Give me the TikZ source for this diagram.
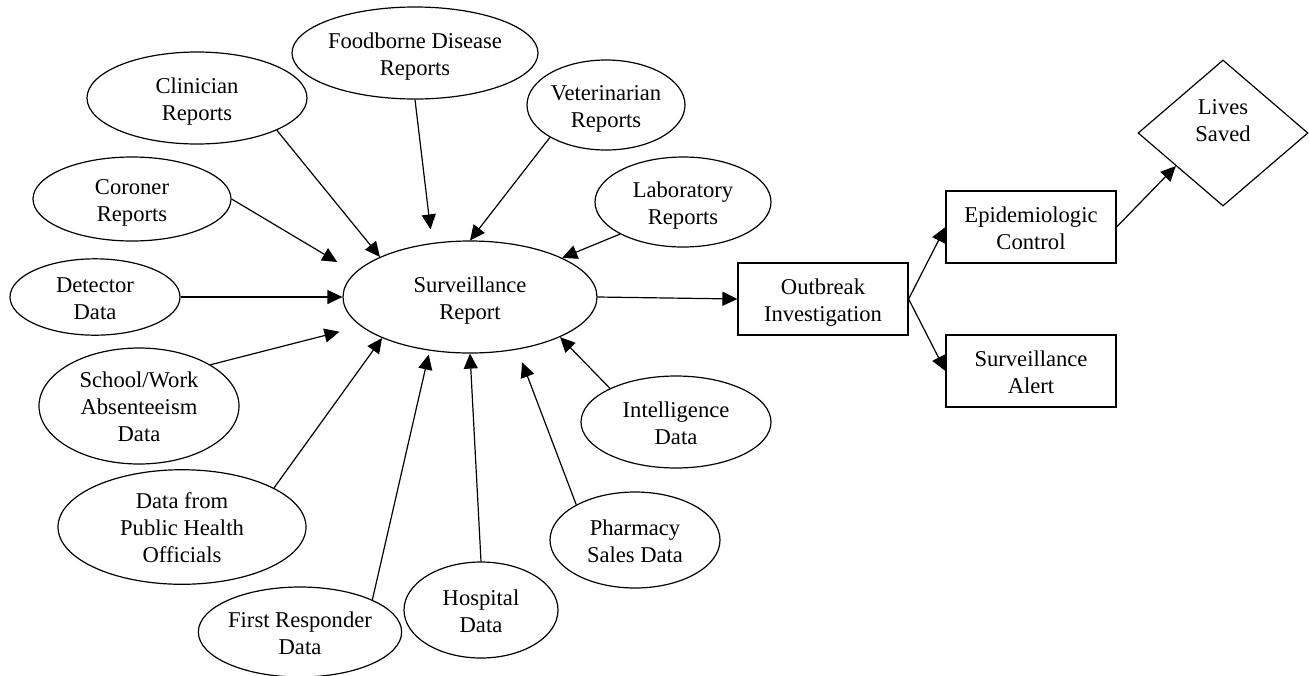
\documentclass[tikz,border=0pt]{standalone}
\usepackage{fontspec}
\setmainfont{Liberation Serif}
\usetikzlibrary{shapes.geometric,arrows.meta}
% two- or three-line label, set a little low in its shape
\newcommand{\lbl}[1]{\raisebox{-1.7pt}[\height][\depth]{\begin{tabular}{@{}c@{}}#1\end{tabular}}}

\begin{document}
\begin{tikzpicture}[x=0.5pt, y=-0.5pt, line width=0.6pt,
    every node/.style={font=\fontsize{11.3}{13.5}\selectfont, align=center, inner sep=0pt},
    src/.style={ellipse, draw},
    stage/.style={rectangle, draw, minimum width=85pt, minimum height=36pt},
    arr/.style={-{Triangle[length=7.5pt, width=7pt]}}]
    \useasboundingbox (0,0) rectangle (1309,675);

    % data sources
    \node[src, minimum width=123pt, minimum height=46pt] (food) at (415,53) {\lbl{Foodborne Disease\\Reports}};
    \node[src, minimum width=110pt, minimum height=46pt] (clin) at (197,98) {\lbl{Clinician\\Reports}};
    \node[src, minimum width=79pt, minimum height=45pt] (vet) at (606,105) {\lbl{Veterinarian\\Reports}};
    \node[src, minimum width=88pt, minimum height=45pt] (lab) at (683,202) {\lbl{Laboratory\\Reports}};
    \node[src, minimum width=99pt, minimum height=42pt] (cor) at (132,199) {\lbl{Coroner\\Reports}};
    \node[src, minimum width=85pt, minimum height=38pt] (det) at (95,297) {\lbl{Detector\\Data}};
    \node[src, minimum width=100pt, minimum height=58pt] (school) at (139,406) {\lbl{School/Work\\Absenteeism\\Data}};
    \node[src, minimum width=124pt, minimum height=52pt] (pubh) at (182,527) {\lbl{Data from\\Public Health\\Officials}};
    \node[src, minimum width=100pt, minimum height=45pt] (first) at (300,632) {\lbl{First Responder\\Data}};
    \node[src, minimum width=77pt, minimum height=48pt] (hosp) at (481,610) {\lbl{Hospital\\Data}};
    \node[src, minimum width=85pt, minimum height=48pt] (pharm) at (635,540) {\lbl{Pharmacy\\Sales Data}};
    \node[src, minimum width=95pt, minimum height=46pt] (intel) at (676,422) {\lbl{Intelligence\\Data}};

    % report and response
    \node[src, minimum width=127pt, minimum height=56pt] (srep) at (470,297) {\lbl{Surveillance\\Report}};
    \node[stage] (outb) at (823,299) {\lbl{Outbreak\\Investigation}};
    \node[stage] (epi) at (1031,227) {\lbl{Epidemiologic\\Control}};
    \node[stage] (alert) at (1031,371) {\lbl{Surveillance\\Alert}};
    \node[diamond, draw, minimum width=85pt, minimum height=73pt,
        label={[yshift=6.25pt]center:Lives\\Saved}] (lives) at (1223,133) {};

    % connectors
    \draw[arr] (clin.-22.7) -- (srep.156.3);
    \draw[arr, shorten >=6.8pt] (food.south) -- (srep.125.4);
    \draw[arr] (vet.210.5) -- (srep.north);
    \draw[arr] (lab.207.6) -- (srep.23.4);
    \draw[arr, shorten >=10.3pt] (cor.east) -- (srep.168.5);
    \draw[arr] (det.east) -- (srep.west);
    \draw[arr, shorten >=11pt] (school.30) -- (srep.195.4);
    \draw[arr] (pubh.23) -- (srep.205.3);
    \draw[arr, shorten >=2pt] (first.24.6) -- (srep.233);
    \draw[arr] (hosp.north) -- (srep.south);
    \draw[arr, shorten >=6.8pt] (pharm.149.7) -- (srep.312.3);
    \draw[arr] (intel.153.4) -- (srep.336);
    \draw[arr] (srep.east) -- (outb.west);
    \draw[arr] (outb.east) -- (epi.west);
    \draw[arr] (outb.east) -- (alert.west);
    \draw[arr] (epi.east) -- (lives.215);
\end{tikzpicture}
\end{document}
